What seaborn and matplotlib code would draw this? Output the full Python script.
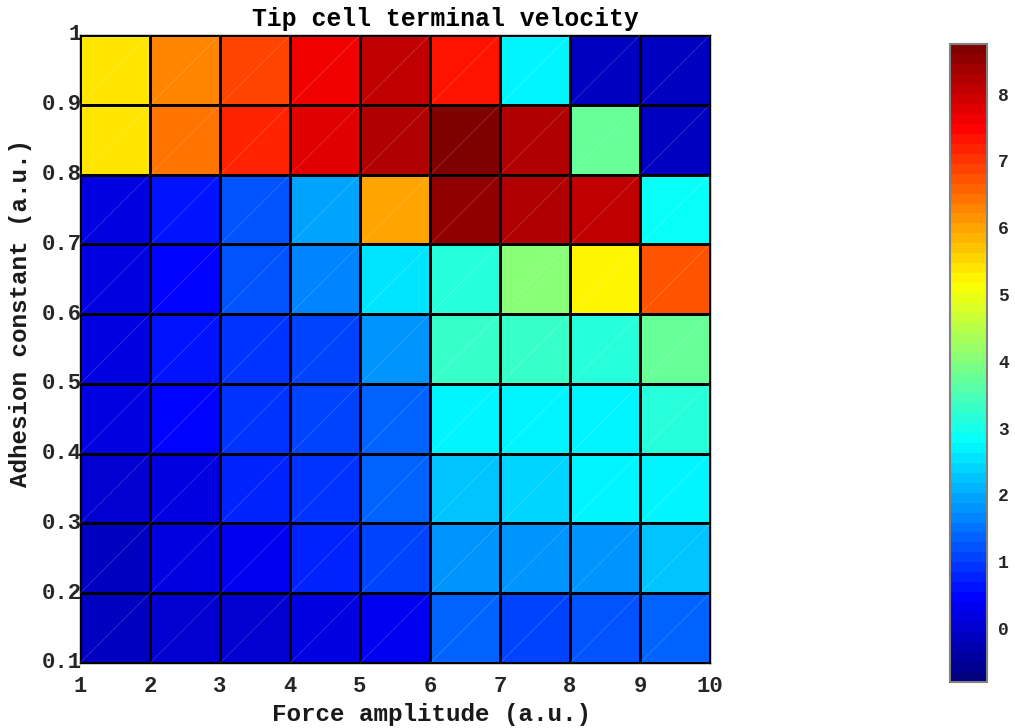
import matplotlib
matplotlib.use("Agg")
import matplotlib.pyplot as plt
from matplotlib.colors import LinearSegmentedColormap
import numpy as np
import pandas as pd
import seaborn as sns

# Grid edges
force_edges = [1, 2, 3, 4, 5, 6, 7, 8, 9, 10]
adhesion_edges = [0.1, 0.2, 0.3, 0.4, 0.5, 0.6, 0.7, 0.8, 0.9, 1.0]

# Terminal velocity per cell, one list per adhesion band (low to high),
# each holding the nine force-amplitude bands from 1-2 to 9-10
v_01 = [-0.17, -0.04, 0.06, 0.20, 0.39, 1.32, 1.04, 1.23, 1.37]
v_02 = [-0.12, 0.20, 0.35, 0.78, 1.04, 1.80, 1.85, 1.85, 2.26]
v_03 = [-0.04, 0.20, 0.78, 0.96, 1.32, 2.30, 2.35, 2.64, 2.64]
v_04 = [0.16, 0.54, 0.92, 1.13, 1.42, 2.78, 2.78, 2.78, 3.12]
v_05 = [0.11, 0.63, 0.99, 1.04, 1.75, 3.26, 3.26, 3.12, 3.76]
v_06 = [0.16, 0.54, 1.23, 1.61, 2.59, 3.21, 4.00, 5.17, 6.67]
v_07 = [0.16, 0.68, 1.18, 1.90, 5.96, 8.51, 8.22, 8.03, 2.88]
v_08 = [5.34, 6.39, 7.17, 7.75, 8.22, 8.75, 8.22, 3.74, -0.12]
v_09 = [5.34, 6.24, 6.84, 7.56, 8.03, 7.37, 2.78, -0.12, -0.12]

cbar_ticks = [0, 1, 2, 3, 4, 5, 6, 7, 8]
v_min, v_max = -0.8, 8.75

rows = [v_01, v_02, v_03, v_04, v_05, v_06, v_07, v_08, v_09]
grid = pd.DataFrame(rows[::-1])  # highest adhesion band on top

# Classic 64-level jet
jet64 = LinearSegmentedColormap.from_list(
    "jet64",
    [(0.0, (0, 0, 0.5)), (1 / 8, (0, 0, 1)), (3 / 8, (0, 1, 1)),
     (5 / 8, (1, 1, 0)), (7 / 8, (1, 0, 0)), (1.0, (0.5, 0, 0))],
    N=64,
)

sns.set_style("white")
plt.rcParams["font.family"] = ["Liberation Mono", "DejaVu Sans Mono"]
plt.rcParams["font.weight"] = "bold"

W, H = 1015, 728
fig = plt.figure(figsize=(W / 100, H / 100), dpi=100)
ax = fig.add_axes([80 / W, (H - 663) / H, 630 / W, 628 / H])
cax = fig.add_axes([950 / W, (H - 682) / H, 37 / W, 638 / H])

sns.heatmap(
    grid, ax=ax, cmap=jet64, vmin=v_min, vmax=v_max,
    linewidths=0.8, linecolor="black", square=False,
    cbar=True, cbar_ax=cax, cbar_kws={"ticks": cbar_ticks},
)
ax.collections[0].set_zorder(2)

# faint triangulation seams running through the cells
n = len(force_edges) - 1
for k in range(1, 2 * n):
    xs = np.array([max(0, k - n), min(n, k)])
    ax.plot(xs, k - xs, color="white", alpha=0.22, lw=0.5, zorder=3)

ax.set_xticks(range(len(force_edges)))
ax.set_xticklabels([str(f) for f in force_edges], rotation=0)
ax.set_yticks(range(len(adhesion_edges)))
ax.set_yticklabels([f"{a:g}" for a in adhesion_edges[::-1]], rotation=0)
ax.tick_params(axis="x", length=0, pad=9, labelsize=16, labelcolor="#262626")
ax.tick_params(axis="y", length=0, pad=-1.5, labelsize=16, labelcolor="#262626")
for lab in ax.get_xticklabels() + ax.get_yticklabels():
    lab.set_fontweight("bold")

for sp in ax.spines.values():
    sp.set_visible(True)
    sp.set_color("black")
    sp.set_linewidth(1.0)

ax.set_xlabel("Force amplitude (a.u.)", fontsize=17.5, fontweight="bold", color="#1a1a1a")
ax.xaxis.set_label_coords((431 - 80) / 630, -(714 - 663) / 628)
ax.xaxis.label.set_va("center")
ax.set_ylabel("Adhesion constant (a.u.)", fontsize=17.5, fontweight="bold", color="#1a1a1a")
ax.yaxis.set_label_coords((21 - 80) / 630, (663 - 313) / 628)
ax.yaxis.label.set_va("center")

ax.text((445 - 80) / 630, (663 - 19) / 628, "Tip cell terminal velocity",
        transform=ax.transAxes, ha="center", va="center",
        fontsize=17.8, fontweight="bold", color="black")

cbar = ax.collections[0].colorbar
cbar.outline.set_edgecolor("#808080")
cbar.outline.set_linewidth(1.5)
cax.tick_params(axis="y", direction="in", length=5, width=1, color="#333333",
                labelsize=13, labelcolor="#262626", pad=8)
for lab in cax.get_yticklabels():
    lab.set_fontweight("bold")

fig.savefig("out.png", dpi=100)
